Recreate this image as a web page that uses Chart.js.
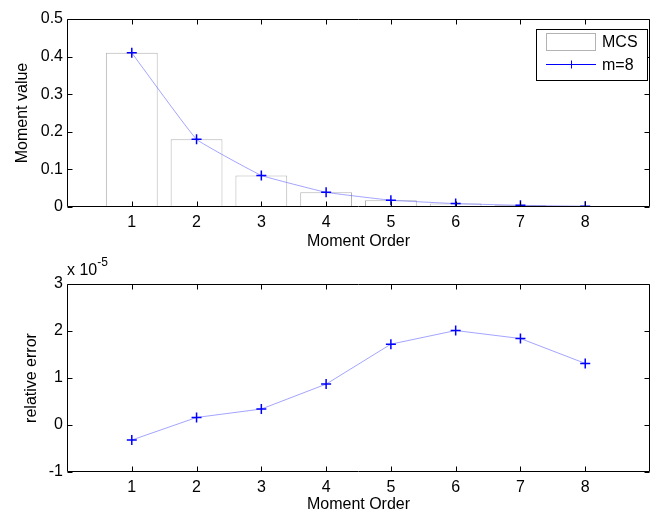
<!DOCTYPE html>
<html>
<head>
<meta charset="utf-8">
<script src="https://cdn.jsdelivr.net/npm/chart.js@4.4.1/dist/chart.umd.min.js"></script>
<style>
  html, body { margin: 0; padding: 0; background: #fff; overflow: hidden; }
  canvas { position: absolute; left: 0; }
  #topChart { top: 0; }
  #bottomChart { top: 255px; }
</style>
</head>
<body>
<canvas id="topChart" width="652" height="255"></canvas>
<canvas id="bottomChart" width="652" height="260"></canvas>
<script>
// moment orders on the x axis
const orders = [1, 2, 3, 4, 5, 6, 7, 8];

// top plot: MCS bars and the m=8 curve
const mcsValues = [0.410, 0.180, 0.084, 0.039, 0.018, 0.009, 0.0045, 0.002];
const m8Values  = [0.410, 0.180, 0.084, 0.039, 0.018, 0.009, 0.0045, 0.002];
const topTicks = [0, 0.1, 0.2, 0.3, 0.4, 0.5];

// bottom plot: relative error, in units of 1e-5
const relError = [-0.32, 0.16, 0.34, 0.87, 1.72, 2.01, 1.84, 1.31];
const bottomTicks = [-1, 0, 1, 2, 3];

const legendLabels = ['MCS', 'm=8'];

const FONT = { family: '"Liberation Sans", Arial, sans-serif', size: 16 };
const LINE_COLOR = 'rgba(90, 90, 255, 0.55)';
const MARK_COLOR = '#0000ff';
const BAR_EDGE = '#b3b3b3';

Chart.defaults.color = '#000';
Chart.defaults.font = FONT;

// matlab style box with inward ticks on all four sides
const frame = {
    id: 'frame',
    afterDatasetsDraw(chart) {
        const { ctx, chartArea: a, scales } = chart;
        const L = Math.round(a.left) + 0.5, R = Math.round(a.right) - 0.5;
        const T = Math.round(a.top) + 0.5, B = Math.round(a.bottom) - 0.5;
        ctx.save();
        ctx.strokeStyle = '#000';
        ctx.lineWidth = 1;
        ctx.beginPath();
        scales.x.ticks.forEach(t => {
            const px = Math.round(scales.x.getPixelForValue(t.value)) + 0.5;
            ctx.moveTo(px, T); ctx.lineTo(px, T + 5);
            ctx.moveTo(px, B); ctx.lineTo(px, B - 5);
        });
        scales.y.ticks.forEach(t => {
            const py = Math.round(scales.y.getPixelForValue(t.value)) + 0.5;
            ctx.moveTo(L, py); ctx.lineTo(L + 5, py);
            ctx.moveTo(R, py); ctx.lineTo(R - 5, py);
        });
        ctx.rect(L, T, R - L, B - T);
        ctx.stroke();
        ctx.restore();
    }
};

function drawCross(ctx, x, y, r) {
    ctx.beginPath();
    ctx.moveTo(x - r, y); ctx.lineTo(x + r, y);
    ctx.moveTo(x, y - r); ctx.lineTo(x, y + r);
    ctx.stroke();
}

const legendBox = {
    id: 'legendBox',
    afterDraw(chart) {
        const { ctx, chartArea: a } = chart;
        const w = 111, h = 51;
        const left = Math.round(a.right) - 3 - w, top = Math.round(a.top) + 10;
        ctx.save();
        ctx.fillStyle = '#fff';
        ctx.fillRect(left, top, w, h);
        ctx.strokeStyle = '#000';
        ctx.lineWidth = 1;
        ctx.strokeRect(left + 0.5, top + 0.5, w, h);

        ctx.strokeStyle = BAR_EDGE;
        ctx.strokeRect(left + 10.5, top + 4.5, 49, 17);

        ctx.strokeStyle = MARK_COLOR;
        ctx.beginPath();
        ctx.moveTo(left + 10, top + 35.5);
        ctx.lineTo(left + 60, top + 35.5);
        ctx.stroke();
        drawCross(ctx, left + 35.5, top + 35.5, 4);

        ctx.fillStyle = '#000';
        ctx.font = '16px "Liberation Sans", Arial, sans-serif';
        ctx.textBaseline = 'middle';
        ctx.fillText(legendLabels[0], left + 66, top + 14);
        ctx.fillText(legendLabels[1], left + 66, top + 37);
        ctx.restore();
    }
};

const exponentLabel = {
    id: 'exponentLabel',
    afterDraw(chart) {
        const { ctx, chartArea: a } = chart;
        ctx.save();
        ctx.fillStyle = '#000';
        ctx.textBaseline = 'alphabetic';
        ctx.font = '16px "Liberation Sans", Arial, sans-serif';
        const base = 'x 10';
        ctx.fillText(base, a.left, a.top - 9);
        const w = ctx.measureText(base).width;
        ctx.font = '12px "Liberation Sans", Arial, sans-serif';
        ctx.fillText('-5', a.left + w, a.top - 18);
        ctx.restore();
    }
};

function xAxis(height, titleBottom) {
    return {
        type: 'linear',
        min: 0,
        max: 9,
        offset: false,
        grid: { display: false, drawTicks: false },
        border: { display: false },
        afterBuildTicks: s => { s.ticks = orders.map(v => ({ value: v })); },
        ticks: { padding: 6, maxRotation: 0, callback: v => String(v) },
        title: { display: true, text: 'Moment Order', padding: { top: 0, bottom: titleBottom } },
        afterFit: s => {
            s.height = height;
            s.paddingLeft = 0;
            s.paddingRight = 0;
        }
    };
}

function yAxis(min, max, ticks, label, titleTop) {
    return {
        min: min,
        max: max,
        grid: { display: false, drawTicks: false },
        border: { display: false },
        afterBuildTicks: s => { s.ticks = ticks.map(v => ({ value: v })); },
        ticks: { padding: 4, callback: v => String(v) },
        title: { display: true, text: label, padding: { top: titleTop, bottom: 0 } },
        afterFit: s => {
            s.width = 67;
            s.paddingTop = 0;
            s.paddingBottom = 0;
        }
    };
}

new Chart(document.getElementById('topChart'), {
    data: {
        datasets: [{
            type: 'line',
            label: legendLabels[1],
            data: orders.map((o, i) => ({ x: o, y: m8Values[i] })),
            borderColor: LINE_COLOR,
            borderWidth: 1,
            tension: 0.08,
            pointStyle: 'cross',
            pointRadius: 5,
            pointBorderWidth: 1.5,
            pointBorderColor: MARK_COLOR,
            order: 0
        }, {
            type: 'bar',
            label: legendLabels[0],
            data: orders.map((o, i) => ({ x: o, y: mcsValues[i] })),
            backgroundColor: '#fff',
            borderColor: BAR_EDGE,
            borderWidth: 1,
            barPercentage: 1,
            categoryPercentage: 0.8,
            order: 1
        }]
    },
    options: {
        responsive: false,
        animation: false,
        layout: { autoPadding: false, padding: { top: 19, right: 2, left: 0, bottom: 0 } },
        plugins: { legend: { display: false }, tooltip: { enabled: false } },
        scales: {
            x: xAxis(48, 4),
            y: yAxis(0, 0.5, topTicks, 'Moment value', 13)
        }
    },
    plugins: [frame, legendBox]
});

new Chart(document.getElementById('bottomChart'), {
    type: 'line',
    data: {
        datasets: [{
            data: orders.map((o, i) => ({ x: o, y: relError[i] })),
            borderColor: LINE_COLOR,
            borderWidth: 1,
            tension: 0,
            pointStyle: 'cross',
            pointRadius: 5,
            pointBorderWidth: 1.5,
            pointBorderColor: MARK_COLOR
        }]
    },
    options: {
        responsive: false,
        animation: false,
        layout: { autoPadding: false, padding: { top: 29, right: 2, left: 0, bottom: 0 } },
        plugins: { legend: { display: false }, tooltip: { enabled: false } },
        scales: {
            x: xAxis(43, 1),
            y: yAxis(-1, 3, bottomTicks, 'relative error', 22)
        }
    },
    plugins: [frame, exponentLabel]
});
</script>
</body>
</html>
